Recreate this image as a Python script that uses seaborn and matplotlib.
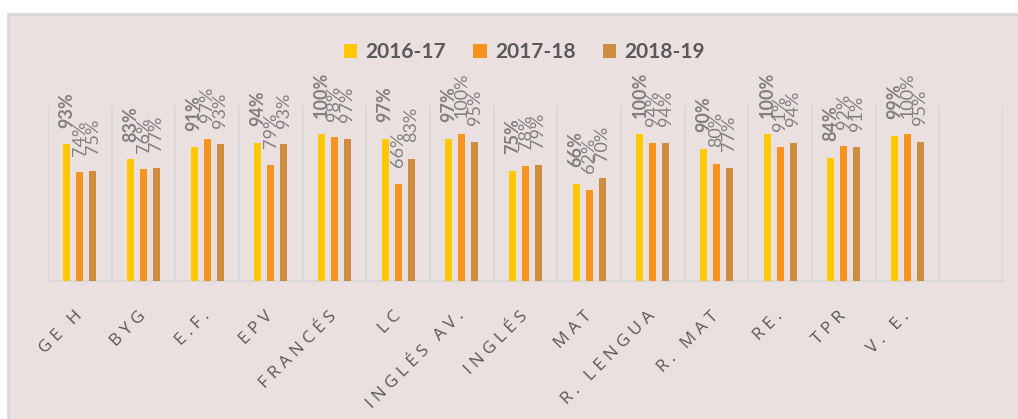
import numpy as np
import pandas as pd
import matplotlib
matplotlib.use("Agg")
import matplotlib.pyplot as plt
from matplotlib.patches import Rectangle
import seaborn as sns

# Subjects and pass rates (%) per school year
asignaturas = ["GE H", "BYG", "E.F.", "EPV", "FRANCÉS", "LC", "INGLÉS AV.",
               "INGLÉS", "MAT", "R. LENGUA", "R. MAT", "RE.", "TPR", "V. E."]
cursos = ["2016-17", "2017-18", "2018-19"]
v_2016_17 = [93, 83, 91, 94, 100, 97, 97, 75, 66, 100, 90, 100, 84, 99]
v_2017_18 = [74, 76, 97, 79, 98, 66, 100, 78, 62, 94, 80, 91, 92, 100]
v_2018_19 = [75, 77, 93, 93, 97, 83, 95, 79, 70, 94, 77, 94, 91, 95]

colores = ["#FFC800", "#F7931E", "#CE8C40"]
fondo = "#EAE0E0"
gris_rejilla = "#D9D9D9"

df = pd.DataFrame({
    "asignatura": asignaturas * 3,
    "curso": [c for c in cursos for _ in asignaturas],
    "valor": v_2016_17 + v_2017_18 + v_2018_19,
})

sns.set_theme(style="white")
plt.rcParams["font.family"] = ["Open Sans", "DejaVu Sans"]

W, H = 1018, 419
fig = plt.figure(figsize=(W / 100, H / 100), dpi=100, facecolor="white")

# chart area panel with a thin border
fig.patches.append(Rectangle((7.5 / W, -0.05), 1.2, 1.05 - 14.5 / H,
                             transform=fig.transFigure, facecolor=fondo,
                             edgecolor=gris_rejilla, linewidth=2, zorder=-10))

ax = fig.add_axes([48 / W, 1 - 280.5 / H, (1003 - 48) / W, (280.5 - 105) / H])
ax.set_facecolor("none")

sns.barplot(data=df, x="asignatura", y="valor", hue="curso", order=asignaturas,
            hue_order=cursos, palette=colores, saturation=1, width=0.61,
            gap=0.45, ax=ax, zorder=3, linewidth=0)

ax.set_xlim(-0.5, 14.5)
ax.set_ylim(0, 120)
ax.set_xlabel("")
ax.set_ylabel("")
ax.set_yticks([])

# vertical separators between categories
ax.set_xticks(np.arange(-0.5, 15, 1), minor=True)
ax.grid(which="minor", axis="x", color=gris_rejilla, linewidth=1.3, zorder=0)
ax.grid(which="major", visible=False)
ax.tick_params(which="both", length=0)
for s in ["top", "right", "left"]:
    ax.spines[s].set_visible(False)
ax.spines["bottom"].set_color(gris_rejilla)
ax.spines["bottom"].set_linewidth(1.5)

# letter-spaced category labels
sep = "\u2009\u200a"
etiquetas = [sep.join(list(a)) for a in asignaturas]
ax.set_xticks(range(len(asignaturas)))
ax.set_xticklabels(etiquetas, rotation=45, ha="right", rotation_mode="anchor",
                   va="center", fontsize=12.5, color="#595959")
ax.tick_params(axis="x", which="major", pad=24)

# value labels above the bars
for i, cont in enumerate(ax.containers):
    vals = [v_2016_17, v_2017_18, v_2018_19][i]
    ax.bar_label(cont, labels=[f"{v}%" for v in vals], padding=12, rotation=90,
                 fontsize=13, color="#808080",
                 fontweight="bold" if i == 0 else "normal",
                 family=["Lato", "DejaVu Sans"])

handles, labels = ax.get_legend_handles_labels()
ax.legend_.remove()
for h in handles:
    h.set_edgecolor("none")
fig.legend(handles, labels, loc="center", bbox_to_anchor=(524.5 / W, 1 - 52 / H),
           ncol=3, frameon=False, labelcolor="#595959",
           prop={"family": "Lato", "weight": "bold", "size": 15},
           handlelength=0.65, handleheight=0.65, handletextpad=0.4,
           columnspacing=1.3)

fig.savefig("out.png", dpi=100, facecolor="white")
